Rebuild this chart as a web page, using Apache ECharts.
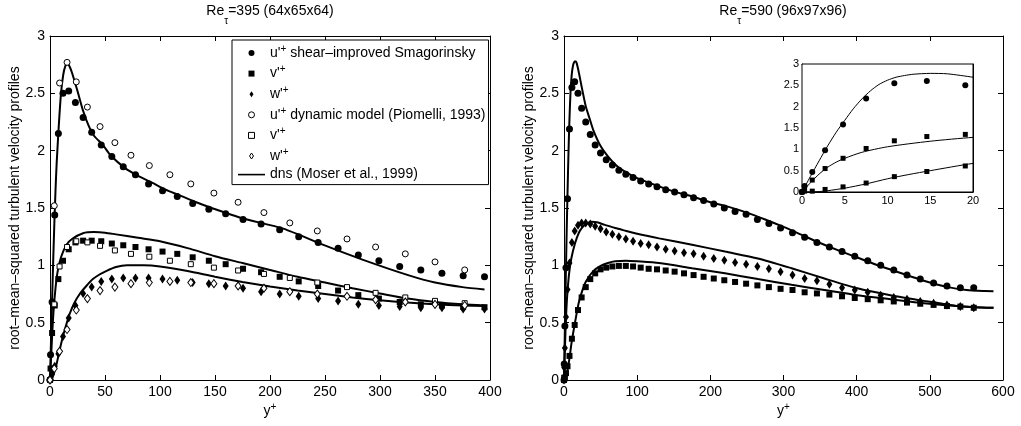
<!DOCTYPE html>
<html><head><meta charset="utf-8">
<script src="https://cdn.jsdelivr.net/npm/echarts@6/dist/echarts.min.js"></script>
<style>html,body{margin:0;padding:0;background:#fff}#c{width:1021px;height:426px}</style>
</head><body><div id="c"></div><script>
const FONT = '"Liberation Sans", Arial, Helvetica, sans-serif';

// ---------- Re_tau = 395 (left panel) ----------
const xSIS395 = [0, 0.5, 1.9, 4.3, 7.6, 11.8, 17.0, 23.1, 30.1, 37.9, 46.6, 56.2, 66.6, 77.7, 89.6, 102.3, 115.7, 129.7, 144.4, 159.7, 175.5, 191.9, 208.8, 226.1, 243.8, 261.9, 280.3, 299.0, 317.9, 337.1, 356.3, 375.6, 395];
const uSIS395 = [0, 0.22, 0.68, 1.44, 2.15, 2.50, 2.52, 2.42, 2.29, 2.16, 2.05, 1.95, 1.86, 1.79, 1.71, 1.65, 1.60, 1.54, 1.49, 1.45, 1.40, 1.36, 1.31, 1.25, 1.20, 1.15, 1.09, 1.04, 0.99, 0.96, 0.93, 0.91, 0.90];
const vSIS395 = [0, 0.10, 0.41, 0.65, 0.88, 1.04, 1.14, 1.20, 1.215, 1.215, 1.21, 1.19, 1.175, 1.16, 1.14, 1.12, 1.10, 1.07, 1.04, 1.01, 0.97, 0.94, 0.90, 0.86, 0.82, 0.78, 0.74, 0.71, 0.68, 0.66, 0.65, 0.64, 0.635];
const wSIS395 = [0, 0.02, 0.05, 0.12, 0.23, 0.38, 0.54, 0.65, 0.755, 0.81, 0.86, 0.88, 0.89, 0.89, 0.89, 0.88, 0.87, 0.85, 0.84, 0.82, 0.80, 0.77, 0.75, 0.73, 0.71, 0.69, 0.66, 0.65, 0.64, 0.63, 0.63, 0.62, 0.62];

const xDM395 = [0, 3.9, 8.7, 15.5, 23.9, 34.0, 45.5, 59.0, 73.6, 90.3, 109.0, 128.0, 149.0, 171.0, 194.5, 218.0, 243.0, 270.0, 296.0, 323.0, 350.0, 377.0];
const uDM395 = [0, 1.52, 2.59, 2.77, 2.60, 2.38, 2.21, 2.07, 1.96, 1.87, 1.79, 1.71, 1.63, 1.55, 1.46, 1.37, 1.30, 1.23, 1.16, 1.10, 1.03, 0.96];
const vDM395 = [0, 0.66, 0.99, 1.16, 1.21, 1.20, 1.17, 1.13, 1.10, 1.075, 1.04, 1.01, 0.98, 0.955, 0.925, 0.89, 0.85, 0.81, 0.76, 0.72, 0.69, 0.67];
const wDM395 = [0, 0.10, 0.25, 0.44, 0.61, 0.71, 0.78, 0.81, 0.84, 0.85, 0.86, 0.85, 0.84, 0.82, 0.80, 0.77, 0.75, 0.73, 0.70, 0.68, 0.66, 0.65];

const xDnsU395 = [0, 1, 2, 3, 4, 5, 6, 8, 10, 12, 14, 16, 18, 20, 25, 30, 35, 40, 48, 55, 68, 80, 91, 105, 118, 133, 147, 175, 212, 248, 284, 327, 350, 375, 395];
const yDnsU395 = [0, 0.37, 0.73, 1.07, 1.38, 1.65, 1.88, 2.22, 2.50, 2.66, 2.74, 2.76, 2.73, 2.68, 2.52, 2.35, 2.22, 2.13, 2.05, 1.96, 1.85, 1.78, 1.73, 1.66, 1.61, 1.55, 1.50, 1.41, 1.32, 1.18, 1.05, 0.91, 0.85, 0.81, 0.79];
const xDnsV395 = [0, 1, 2, 3, 5, 7, 10, 15, 20, 30, 40, 50, 60, 80, 100, 125, 150, 175, 200, 225, 250, 275, 300, 325, 350, 375, 395];
const yDnsV395 = [0, 0.20, 0.40, 0.57, 0.80, 0.95, 1.07, 1.18, 1.23, 1.28, 1.29, 1.285, 1.27, 1.24, 1.21, 1.15, 1.08, 1.02, 0.96, 0.90, 0.85, 0.80, 0.755, 0.71, 0.68, 0.66, 0.65];
const xDnsW395 = [0, 2, 4, 6, 9, 12, 15, 18, 22, 27, 33, 39, 45, 51, 60, 70, 85, 100, 125, 150, 175, 200, 225, 250, 275, 300, 325, 350, 375, 395];
const yDnsW395 = [0, 0.02, 0.07, 0.14, 0.27, 0.39, 0.49, 0.58, 0.67, 0.75, 0.82, 0.88, 0.92, 0.95, 0.985, 1.0, 1.0, 0.99, 0.95, 0.90, 0.855, 0.815, 0.78, 0.75, 0.72, 0.695, 0.675, 0.66, 0.65, 0.645];

// ---------- Re_tau = 590 (right panel) ----------
const x590 = [0, 0.3, 1.2, 2.7, 4.8, 7.5, 10.8, 14.6, 19.1, 24.1, 29.7, 35.9, 42.6, 49.9, 57.7, 66.1, 75.0, 84.5, 94.4, 104.8, 115.7, 127.1, 139.0, 151.2, 164.0, 177.1, 190.8, 204.7, 219.1, 233.8, 248.9, 264.3, 280.0, 296.0, 312.3, 328.9, 345.7, 362.7, 380.0, 397.4, 415.1, 432.8, 450.7, 468.8, 486.9, 505.1, 523.4, 541.7, 560.0];
const u590 = [0, 0.14, 0.47, 0.98, 1.58, 2.19, 2.55, 2.60, 2.50, 2.37, 2.25, 2.14, 2.05, 1.98, 1.92, 1.875, 1.83, 1.795, 1.765, 1.735, 1.71, 1.685, 1.66, 1.64, 1.615, 1.59, 1.565, 1.535, 1.50, 1.47, 1.445, 1.40, 1.365, 1.325, 1.285, 1.245, 1.20, 1.16, 1.12, 1.08, 1.04, 1.00, 0.96, 0.915, 0.88, 0.845, 0.82, 0.805, 0.805];
const w590 = [0, 0.11, 0.28, 0.55, 0.79, 1.02, 1.20, 1.30, 1.35, 1.37, 1.37, 1.36, 1.34, 1.32, 1.29, 1.27, 1.25, 1.23, 1.21, 1.19, 1.18, 1.16, 1.14, 1.125, 1.11, 1.10, 1.08, 1.06, 1.045, 1.025, 1.01, 0.99, 0.97, 0.945, 0.915, 0.885, 0.865, 0.835, 0.805, 0.785, 0.765, 0.74, 0.72, 0.705, 0.685, 0.67, 0.655, 0.64, 0.63];
const v590 = [0, 0.02, 0.02, 0.06, 0.12, 0.21, 0.36, 0.48, 0.61, 0.72, 0.81, 0.88, 0.93, 0.965, 0.98, 0.99, 0.995, 0.995, 0.99, 0.98, 0.97, 0.965, 0.955, 0.945, 0.93, 0.915, 0.90, 0.885, 0.87, 0.855, 0.84, 0.825, 0.81, 0.795, 0.785, 0.765, 0.755, 0.745, 0.73, 0.715, 0.705, 0.695, 0.685, 0.675, 0.665, 0.655, 0.645, 0.64, 0.63];

const xDnsU590 = [0, 1, 2, 3, 4, 5, 6, 7, 8, 9, 10, 11, 12, 13, 15, 17, 20, 25, 30, 35, 40, 50, 60, 70, 80, 100, 125, 150, 175, 200, 225, 250, 275, 300, 325, 350, 375, 400, 425, 450, 475, 500, 525, 550, 575, 587];
const yDnsU590 = [0, 0.37, 0.73, 1.08, 1.40, 1.68, 1.95, 2.18, 2.37, 2.52, 2.62, 2.69, 2.73, 2.76, 2.78, 2.77, 2.69, 2.53, 2.38, 2.28, 2.18, 2.04, 1.95, 1.88, 1.83, 1.76, 1.70, 1.645, 1.60, 1.55, 1.51, 1.46, 1.40, 1.335, 1.265, 1.195, 1.13, 1.07, 1.01, 0.955, 0.90, 0.85, 0.81, 0.785, 0.776, 0.775];
const xDnsW590 = [0, 1, 2, 3, 4, 5, 7, 10, 15, 20, 25, 30, 38, 45, 55, 70, 85, 100, 130, 175, 220, 265, 311, 356, 401, 446, 492, 537, 560, 587];
const yDnsW590 = [0, 0.22, 0.42, 0.58, 0.70, 0.79, 0.93, 1.06, 1.19, 1.28, 1.33, 1.36, 1.38, 1.375, 1.355, 1.325, 1.30, 1.275, 1.235, 1.18, 1.12, 1.06, 0.975, 0.885, 0.80, 0.74, 0.69, 0.645, 0.635, 0.63];
const xDnsV590 = [0, 2, 3, 5, 7.5, 10, 12.5, 15, 20, 25, 30, 40, 50, 60, 70, 85, 100, 130, 175, 220, 265, 311, 356, 401, 446, 492, 537, 560, 587];
const yDnsV590 = [0, 0.01, 0.03, 0.09, 0.19, 0.31, 0.41, 0.50, 0.67, 0.78, 0.86, 0.95, 0.995, 1.02, 1.035, 1.04, 1.035, 1.02, 0.975, 0.93, 0.88, 0.83, 0.785, 0.74, 0.705, 0.67, 0.645, 0.635, 0.63];

// tick labels / text
const yTicks = [0, 0.5, 1, 1.5, 2, 2.5, 3];
const titles = ['{b|Re}{t|τ}{b|=395 (64x65x64)}', '{b|Re}{t|τ}{b|=590 (96x97x96)}'];
const yLabel = 'root–mean–squared turbulent velocity profiles';

function pairs(xs, ys) { return xs.map((x, i) => [x, ys[i]]); }
function upTo(xs, ys, lim) { return pairs(xs, ys).filter(p => p[0] <= lim); }

const supRich = {
  b: { fontSize: 14, lineHeight: 18, fontFamily: FONT, color: '#000' },
  s: { fontSize: 10, lineHeight: 10, padding: [0, 0, 8, 0], fontFamily: FONT, color: '#000' }
};
const titleRich = {
  b: { fontSize: 14, lineHeight: 30, fontFamily: FONT, fill: '#000', color: '#000' },
  t: { fontSize: 10, lineHeight: 10, padding: [20, 0, 0, 0], fontFamily: FONT, fill: '#000', color: '#000' }
};

const axLine = { show: true, onZero: false, lineStyle: { color: '#000', width: 1 } };
function xAx(grid, max, interval, top, fs, tickLen, withName) {
  return {
    type: 'value', gridIndex: grid, min: 0, max: max, interval: interval,
    position: top ? 'top' : 'bottom',
    axisLine: axLine,
    axisTick: { show: true, inside: true, length: tickLen, lineStyle: { color: '#000' } },
    axisLabel: { show: !top, color: '#000', fontSize: fs, fontFamily: FONT, margin: fs > 12 ? 5 : 3 },
    splitLine: { show: false },
    name: withName ? '{b|y}{s|+}' : '', nameLocation: 'middle', nameGap: 22,
    nameMoveOverlap: false,
    nameTextStyle: { rich: supRich }
  };
}
function yAx(grid, right, fs, tickLen, withName) {
  return {
    type: 'value', gridIndex: grid, min: 0, max: 3, interval: 0.5,
    position: right ? 'right' : 'left',
    axisLine: axLine,
    axisTick: { show: true, inside: true, length: tickLen, lineStyle: { color: '#000' } },
    axisLabel: { show: !right, color: '#000', fontSize: fs, fontFamily: FONT, margin: fs > 12 ? 5 : 3,
      formatter: v => String(yTicks.find(t => Math.abs(t - v) < 1e-9) ?? v) },
    splitLine: { show: false },
    name: withName ? yLabel : '', nameLocation: 'middle', nameGap: 28,
    nameMoveOverlap: false,
    nameTextStyle: { color: '#000', fontSize: 14, fontFamily: FONT }
  };
}

function sc(name, xi, yi, data, symbol, size, open, z) {
  return {
    type: 'scatter', name: name, xAxisIndex: xi, yAxisIndex: yi, data: data,
    symbol: symbol, symbolSize: size, symbolKeepAspect: true,
    itemStyle: open ? { color: '#fff', borderColor: '#000', borderWidth: 1, opacity: 1 }
                    : { color: '#000', borderWidth: 0, opacity: 1 },
    emphasis: { disabled: true }, animation: false, z: z || 3
  };
}
function ln(name, xi, yi, data, w) {
  return {
    type: 'line', name: name, xAxisIndex: xi, yAxisIndex: yi, data: data,
    symbol: 'none', showSymbol: false, smooth: 0.25, clip: true, symbolKeepAspect: true,
    lineStyle: { color: '#000', width: w }, itemStyle: { color: '#000' },
    emphasis: { disabled: true }, animation: false, z: 2
  };
}

const legendText = {
  uSIS: "{b|u'}{s|+}{b| shear–improved Smagorinsky}",
  vSIS: "{b|v'}{s|+}",
  wSIS: "{b|w'}{s|+}",
  uDM: "{b|u'}{s|+}{b| dynamic model (Piomelli, 1993)}",
  vDM: "{b|v'}{s|+}",
  wDM: "{b|w'}{s|+}",
  dns: '{b|dns (Moser et al., 1999)}'
};
const ICON_SQ = 'path://M0,0 L6,0 L6,6 L0,6 Z';
const ICON_DI = 'path://M3,0 L6,4.5 L3,9 L0,4.5 Z';
const ICON_LN = 'path://M0,0 L27,0 L27,1.6 L0,1.6 Z';
const openStyle = { color: '#fff', borderColor: '#000', borderWidth: 1 };
const fillStyle = { color: '#000', borderWidth: 0 };

const option = {
  backgroundColor: '#fff',
  animation: false,
  textStyle: { fontFamily: FONT },
  grid: [
    { left: 50, top: 36, width: 440, height: 344, outerBoundsMode: 'none', containLabel: false },
    { left: 564, top: 36, width: 439, height: 344, outerBoundsMode: 'none', containLabel: false },
    { left: 802, top: 64, width: 171, height: 128, outerBoundsMode: 'none', containLabel: false,
      show: true, backgroundColor: '#fff', borderColor: '#000', borderWidth: 1, z: 5 }
  ],
  xAxis: [
    xAx(0, 400, 50, false, 14, 5, true), xAx(0, 400, 50, true, 14, 5, false),
    xAx(1, 600, 100, false, 14, 5, true), xAx(1, 600, 100, true, 14, 5, false),
    xAx(2, 20, 5, false, 11, 2, false), xAx(2, 20, 5, true, 11, 2, false)
  ],
  yAxis: [
    yAx(0, false, 14, 5, true), yAx(0, true, 14, 5, false),
    yAx(1, false, 14, 5, true), yAx(1, true, 14, 5, false),
    yAx(2, false, 11, 2, false), yAx(2, true, 11, 2, false)
  ],
  legend: {
    data: [
      { name: 'uSIS', icon: 'circle', itemStyle: fillStyle },
      { name: 'vSIS', icon: ICON_SQ, itemStyle: fillStyle },
      { name: 'wSIS', icon: ICON_DI, itemStyle: fillStyle },
      { name: 'uDM', icon: 'circle', itemStyle: openStyle },
      { name: 'vDM', icon: ICON_SQ, itemStyle: openStyle },
      { name: 'wDM', icon: ICON_DI, itemStyle: openStyle },
      { name: 'dns', icon: ICON_LN, itemStyle: fillStyle }
    ],
    orient: 'vertical', left: 232, top: 40,
    itemWidth: 27, itemHeight: 6, itemGap: 2.6,
    padding: [4, 3, 3, 6],
    borderColor: '#000', borderWidth: 1, backgroundColor: '#fff',
    selectedMode: false, z: 10,
    formatter: n => legendText[n],
    textStyle: { fontFamily: FONT, fontSize: 14, color: '#000', rich: supRich }
  },
  graphic: [
    { type: 'text', x: 270, y: 11, z: 20,
      style: { text: titles[0], textAlign: 'center', textVerticalAlign: 'middle', fill: '#000', font: '14px ' + FONT, rich: titleRich } },
    { type: 'text', x: 783, y: 11, z: 20,
      style: { text: titles[1], textAlign: 'center', textVerticalAlign: 'middle', fill: '#000', font: '14px ' + FONT, rich: titleRich } }
  ],
  series: [
    // left panel
    ln('dns', 0, 0, pairs(xDnsU395, yDnsU395), 2),
    ln('dns', 0, 0, pairs(xDnsV395, yDnsV395), 2),
    ln('dns', 0, 0, pairs(xDnsW395, yDnsW395), 2),
    sc('uSIS', 0, 0, pairs(xSIS395, uSIS395), 'circle', 7, false),
    sc('vSIS', 0, 0, pairs(xSIS395, vSIS395), 'rect', 6, false),
    sc('wSIS', 0, 0, pairs(xSIS395, wSIS395), 'diamond', [6, 9], false),
    sc('uDM', 0, 0, pairs(xDM395, uDM395), 'circle', 6, true),
    sc('vDM', 0, 0, pairs(xDM395, vDM395), 'rect', 5, true),
    sc('wDM', 0, 0, pairs(xDM395, wDM395), 'diamond', [6, 8], true),
    // right panel
    ln('r_dns', 2, 2, pairs(xDnsU590, yDnsU590), 2),
    ln('r_dns', 2, 2, pairs(xDnsW590, yDnsW590), 2),
    ln('r_dns', 2, 2, pairs(xDnsV590, yDnsV590), 2),
    sc('r_u', 2, 2, pairs(x590, u590), 'circle', 7, false),
    sc('r_w', 2, 2, pairs(x590, w590), 'diamond', [6, 9], false),
    sc('r_v', 2, 2, pairs(x590, v590), 'rect', 6, false),
    // inset
    Object.assign(ln('i_dns', 4, 4, pairs(xDnsU590, yDnsU590), 1), { z: 6 }),
    Object.assign(ln('i_dns', 4, 4, pairs(xDnsW590, yDnsW590), 1), { z: 6 }),
    Object.assign(ln('i_dns', 4, 4, pairs(xDnsV590, yDnsV590), 1), { z: 6 }),
    sc('i_u', 4, 4, upTo(x590, u590, 20), 'circle', 6, false, 7),
    sc('i_w', 4, 4, upTo(x590, w590, 20), 'rect', 5, false, 7),
    sc('i_v', 4, 4, upTo(x590, v590, 20), 'rect', 5, false, 7)
  ]
};

const chart = echarts.init(document.getElementById('c'), null, { renderer: 'canvas' });
chart.setOption(option);
</script></body></html>
